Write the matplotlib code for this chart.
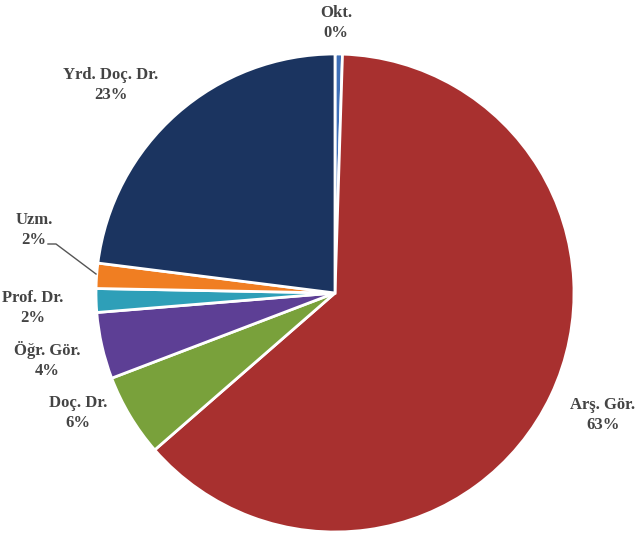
import matplotlib
matplotlib.use('Agg')
import matplotlib.pyplot as plt

# slice shares (percent), clockwise from top
categories = ['Okt.', 'Arş. Gör.', 'Doç. Dr.', 'Öğr. Gör.', 'Prof. Dr.', 'Uzm.', 'Yrd. Doç. Dr.']
shares = [0.5, 63.1, 5.6, 4.5, 1.6, 1.7, 23.0]
pct_labels = ['0%', '63%', '6%', '4%', '2%', '2%', '23%']
colors = ['#3e6fb7', '#a8302f', '#79a13b', '#5d3f95', '#2e9fb8', '#f07e22', '#1b3460']

# label centres in pixels (x, y of the middle of the first line)
label_px = [(336, 12), (603, 404), (78, 402), (47, 348), (33, 297), (34, 219), (111, 74)]

W, H = 640, 538
CX, CY, R = 335, 293, 239


def px2data(px, py):
	return (px - CX) / R, (CY - py) / R


def main():
	fig = plt.figure(figsize=(W / 100, H / 100), dpi=100)
	ax = fig.add_axes([0, 0, 1, 1])
	ax.pie(shares, colors=colors, startangle=90, counterclock=False,
		radius=1.0, wedgeprops=dict(edgecolor='white', linewidth=2))
	ax.set_xlim(-CX / R, (W - CX) / R)
	ax.set_ylim((CY - H) / R, CY / R)
	ax.set_aspect('equal')
	ax.axis('off')

	for name, pct, (px, py) in zip(categories, pct_labels, label_px):
		x, y = px2data(px, py - 7)
		ax.text(x, y, name + '\n' + pct, ha='center', va='top', fontsize=12,
			family='Liberation Serif', fontweight='bold', color='#444444',
			linespacing=1.3)

	# leader line for Uzm.
	pts = [px2data(48, 244), px2data(56, 244), px2data(96, 274)]
	ax.plot([p[0] for p in pts], [p[1] for p in pts], color='#555555', linewidth=1)

	fig.savefig('out.png', dpi=100)


if __name__ == '__main__':
	main()
